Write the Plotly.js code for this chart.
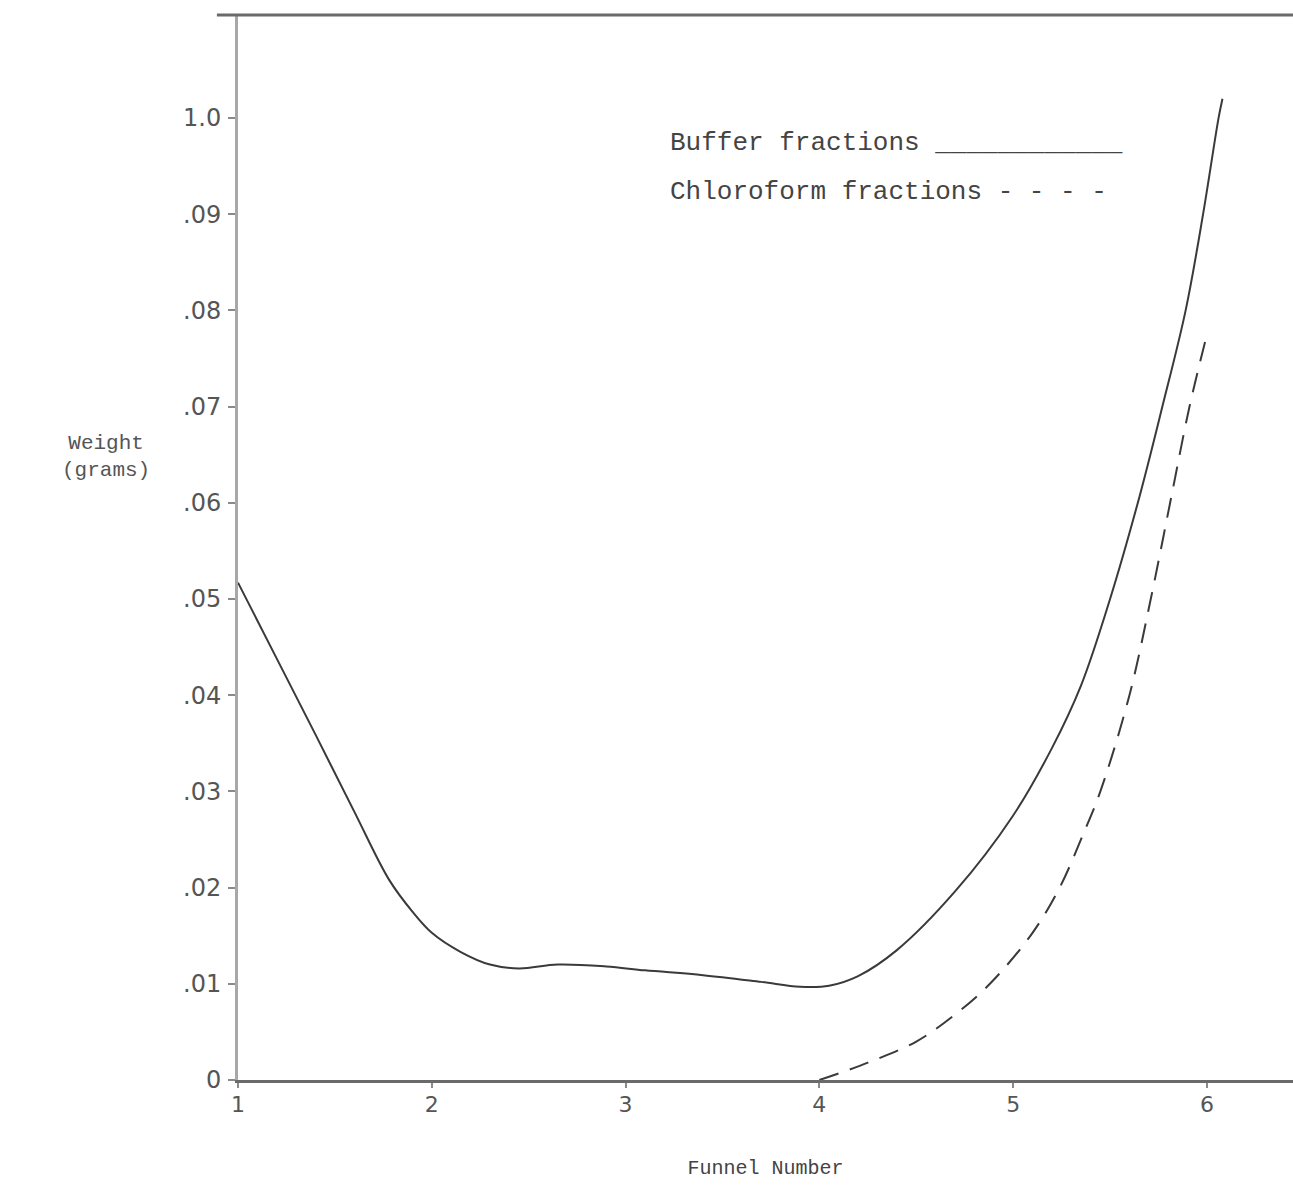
<!DOCTYPE html>
<html>
<head>
<meta charset="utf-8">
<script src="https://cdn.plot.ly/plotly-3.0.1.min.js"></script>
<style>
  html, body { margin: 0; padding: 0; background: #ffffff; }
  #chart { width: 1293px; height: 1186px; }
</style>
</head>
<body>
<div id="chart"></div>
<script>
// Funnel number (x) vs weight in grams (y)
const bufferFunnel = [1, 1.2, 1.4, 1.6, 1.78, 1.9, 2.0, 2.15, 2.3, 2.45, 2.65, 2.9, 3.1, 3.4, 3.7, 3.9, 4.05, 4.2, 4.4, 4.7, 5.0, 5.2, 5.35, 5.5, 5.65, 5.77, 5.89, 5.98, 6.06, 6.08];
const bufferWeight = [0.0517, 0.0438, 0.0359, 0.0279, 0.0208, 0.0175, 0.0153, 0.0133, 0.0120, 0.0116, 0.0120, 0.0118, 0.0114, 0.0109, 0.0102, 0.0097, 0.0098, 0.0108, 0.0135, 0.0196, 0.0275, 0.0345, 0.0410, 0.0500, 0.0605, 0.0700, 0.0800, 0.0900, 0.1000, 0.1020];

const chloroFunnel = [4.0, 4.25, 4.5, 4.7, 4.88, 5.1, 5.24, 5.36, 5.45, 5.6, 5.71, 5.81, 5.91, 6.0];
const chloroWeight = [0.0, 0.0018, 0.0040, 0.0068, 0.0100, 0.0153, 0.0200, 0.0255, 0.0300, 0.0400, 0.0500, 0.0600, 0.0700, 0.0775];

const xTickVals = [1, 2, 3, 4, 5, 6];
const xTickText = ['1', '2', '3', '4', '5', '6'];
const yTickVals = [0, 0.01, 0.02, 0.03, 0.04, 0.05, 0.06, 0.07, 0.08, 0.09, 0.10];
const yTickText = ['0', '.01', '.02', '.03', '.04', '.05', '.06', '.07', '.08', '.09', '1.0'];

const seriesNames = ['Buffer fractions', 'Chloroform fractions'];

const typeFont = 'Liberation Mono, Courier New, monospace';
const handFont = 'DejaVu Sans, sans-serif';

const traces = [
  {
    x: bufferFunnel, y: bufferWeight, name: seriesNames[0],
    type: 'scatter', mode: 'lines',
    line: { color: '#3a3a3a', width: 2, shape: 'spline', smoothing: 1 },
    showlegend: false, cliponaxis: false
  },
  {
    x: chloroFunnel, y: chloroWeight, name: seriesNames[1],
    type: 'scatter', mode: 'lines',
    line: { color: '#3a3a3a', width: 2, shape: 'spline', smoothing: 1, dash: '20px,12px' },
    showlegend: false, cliponaxis: false
  }
];

const layout = {
  width: 1293, height: 1186,
  margin: { l: 238, r: 0, t: 15, b: 106 },
  paper_bgcolor: '#ffffff', plot_bgcolor: '#ffffff',
  showlegend: false,
  xaxis: {
    range: [1, 6.444],
    tickvals: xTickVals, ticktext: xTickText,
    showgrid: false, zeroline: false,
    showline: true, linecolor: '#6a6a6a', linewidth: 3,
    ticks: 'outside', ticklen: 5, tickwidth: 2, tickcolor: '#8a8a8a',
    tickfont: { family: handFont, size: 22, color: '#555555' },
    ticklabelstandoff: -2,
    title: { text: 'Funnel Number', font: { family: typeFont, size: 20, color: '#444444' }, standoff: 44 }
  },
  yaxis: {
    range: [0, 0.1107],
    tickvals: yTickVals, ticktext: yTickText,
    showgrid: false, zeroline: false,
    showline: true, linecolor: '#a8a8a8', linewidth: 3,
    ticks: 'outside', ticklen: 7, tickwidth: 2, tickcolor: '#8a8a8a',
    tickfont: { family: handFont, size: 24, color: '#555555' },
    ticklabelstandoff: 2
  },
  shapes: [
    { type: 'line', xref: 'paper', yref: 'paper', x0: -0.02, x1: 1, y0: 1, y1: 1,
      line: { color: '#6a6a6a', width: 3 } }
  ],
  annotations: [
    { xref: 'paper', yref: 'paper', x: -0.125, y: 0.585, xanchor: 'center', yanchor: 'middle',
      text: 'Weight<br>(grams)', showarrow: false, align: 'center',
      font: { family: typeFont, size: 21, color: '#555555' } },
    { xref: 'x', yref: 'y', x: 3.219, y: 0.0974, xanchor: 'left', yanchor: 'middle',
      text: seriesNames[0] + ' ____________', showarrow: false, align: 'left',
      font: { family: typeFont, size: 26, color: '#444444' } },
    { xref: 'x', yref: 'y', x: 3.219, y: 0.0923, xanchor: 'left', yanchor: 'middle',
      text: seriesNames[1] + ' - - - -', showarrow: false, align: 'left',
      font: { family: typeFont, size: 26, color: '#444444' } }
  ]
};

Plotly.newPlot('chart', traces, layout, { displayModeBar: false, staticPlot: true });
</script>
</body>
</html>
